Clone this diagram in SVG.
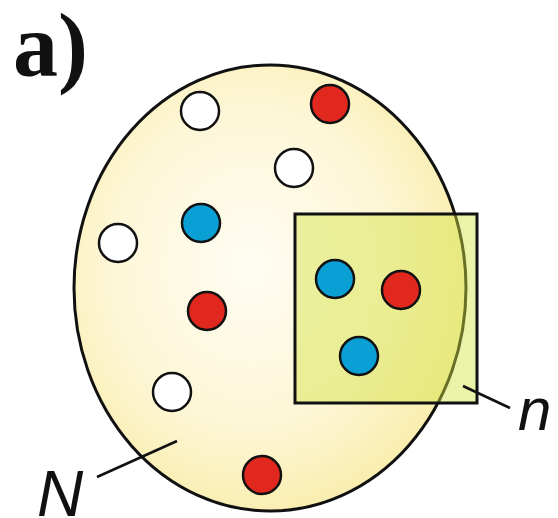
<svg xmlns="http://www.w3.org/2000/svg" width="558" height="518" viewBox="0 0 558 518">
<defs>
<radialGradient id="eg" cx="0.45" cy="0.45" r="0.6">
<stop offset="0" stop-color="#fffdf3"/>
<stop offset="0.6" stop-color="#fdf6d6"/>
<stop offset="1" stop-color="#f9eca8"/>
</radialGradient>
<style>
.dot{stroke:#111;stroke-width:2.5}
.w{fill:#ffffff}.r{fill:#e0281e}.b{fill:#0aa0d6}
.lbl{font-family:"Liberation Sans",Arial,sans-serif;font-style:italic;fill:#111}
.ln{stroke:#111;stroke-width:2.5;fill:none}
</style>
</defs>
<rect width="558" height="518" fill="#ffffff"/>
<text x="13" y="76" font-family="Liberation Serif,Times New Roman,serif" font-weight="bold" font-size="90" fill="#111">a)</text>
<g id="population">
<ellipse cx="270" cy="288" rx="196" ry="223" fill="url(#eg)" stroke="#111" stroke-width="3"/>
</g>
<g id="dots">
<circle class="dot w" cx="200" cy="111" r="19"/>
<circle class="dot r" cx="330" cy="104" r="19"/>
<circle class="dot w" cx="294" cy="168" r="19"/>
<circle class="dot b" cx="201" cy="223" r="19"/>
<circle class="dot w" cx="118" cy="243" r="19"/>
<circle class="dot r" cx="207" cy="311" r="19"/>
<circle class="dot w" cx="172" cy="392" r="19"/>
<circle class="dot r" cx="262" cy="475" r="19"/>
</g>
<g id="sample">
<rect x="295" y="214" width="182" height="189" fill="#d2e240" fill-opacity="0.45" stroke="#111" stroke-width="3"/>
<circle class="dot b" cx="335" cy="279" r="19"/>
<circle class="dot r" cx="401" cy="290" r="19"/>
<circle class="dot b" cx="359" cy="356" r="19"/>
</g>
<g id="connectors">
<line class="ln" x1="177" y1="441" x2="97" y2="477"/>
<line class="ln" x1="463" y1="386" x2="510" y2="408"/>
</g>
<g id="labels">
<text class="lbl" x="37" y="516" font-size="64">N</text>
<text class="lbl" x="518" y="430" font-size="60">n</text>
</g>
</svg>
